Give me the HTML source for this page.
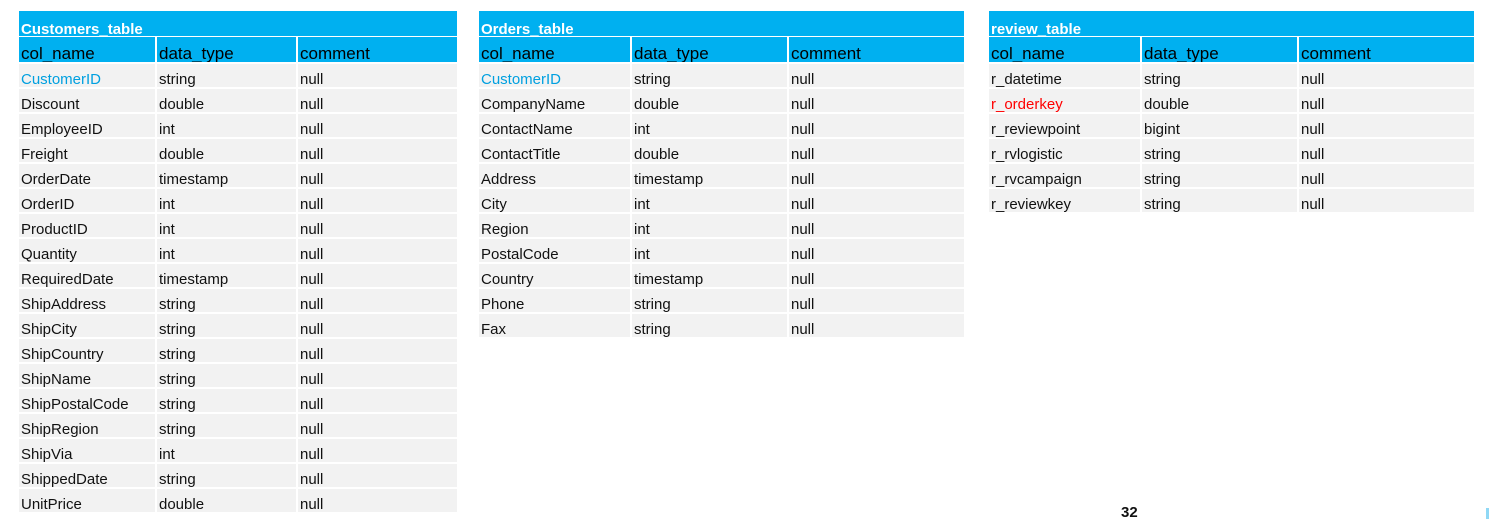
<!DOCTYPE html>
<html><head><meta charset="utf-8"><style>
body{margin:0;width:1489px;height:519px;background:#fff;position:relative;overflow:hidden;font-family:"Liberation Sans",sans-serif;}
.t{position:absolute;top:11px;}
.title{height:25px;background:#00b0f0;color:#fff;font-weight:bold;font-size:15px;line-height:38px;padding-left:2px;box-sizing:border-box;overflow:hidden;}
.r{display:flex;margin-top:2px;height:23px;}
.h{height:25px;margin-top:1px;}
.r div{box-sizing:border-box;padding-left:2px;margin-right:2px;background:#f2f2f2;font-size:15px;line-height:31px;color:#111;white-space:nowrap;overflow:hidden;}
.r div:last-child{margin-right:0}
.h div{background:#00b0f0;font-size:17px;line-height:33px;color:#000;}
.b{color:#00a0e0!important}.red{color:#f00!important}
</style></head><body>

<div class="t" style="left:19px;width:438px">
<div class="title">Customers_table</div>
<div class="r h"><div style="width:136px">col_name</div><div style="width:139px">data_type</div><div style="flex:1">comment</div></div>
<div class="r"><div class="b" style="width:136px">CustomerID</div><div style="width:139px">string</div><div style="flex:1">null</div></div>
<div class="r"><div style="width:136px">Discount</div><div style="width:139px">double</div><div style="flex:1">null</div></div>
<div class="r"><div style="width:136px">EmployeeID</div><div style="width:139px">int</div><div style="flex:1">null</div></div>
<div class="r"><div style="width:136px">Freight</div><div style="width:139px">double</div><div style="flex:1">null</div></div>
<div class="r"><div style="width:136px">OrderDate</div><div style="width:139px">timestamp</div><div style="flex:1">null</div></div>
<div class="r"><div style="width:136px">OrderID</div><div style="width:139px">int</div><div style="flex:1">null</div></div>
<div class="r"><div style="width:136px">ProductID</div><div style="width:139px">int</div><div style="flex:1">null</div></div>
<div class="r"><div style="width:136px">Quantity</div><div style="width:139px">int</div><div style="flex:1">null</div></div>
<div class="r"><div style="width:136px">RequiredDate</div><div style="width:139px">timestamp</div><div style="flex:1">null</div></div>
<div class="r"><div style="width:136px">ShipAddress</div><div style="width:139px">string</div><div style="flex:1">null</div></div>
<div class="r"><div style="width:136px">ShipCity</div><div style="width:139px">string</div><div style="flex:1">null</div></div>
<div class="r"><div style="width:136px">ShipCountry</div><div style="width:139px">string</div><div style="flex:1">null</div></div>
<div class="r"><div style="width:136px">ShipName</div><div style="width:139px">string</div><div style="flex:1">null</div></div>
<div class="r"><div style="width:136px">ShipPostalCode</div><div style="width:139px">string</div><div style="flex:1">null</div></div>
<div class="r"><div style="width:136px">ShipRegion</div><div style="width:139px">string</div><div style="flex:1">null</div></div>
<div class="r"><div style="width:136px">ShipVia</div><div style="width:139px">int</div><div style="flex:1">null</div></div>
<div class="r"><div style="width:136px">ShippedDate</div><div style="width:139px">string</div><div style="flex:1">null</div></div>
<div class="r"><div style="width:136px">UnitPrice</div><div style="width:139px">double</div><div style="flex:1">null</div></div>
</div>

<div class="t" style="left:479px;width:485px">
<div class="title">Orders_table</div>
<div class="r h"><div style="width:151px">col_name</div><div style="width:155px">data_type</div><div style="flex:1">comment</div></div>
<div class="r"><div class="b" style="width:151px">CustomerID</div><div style="width:155px">string</div><div style="flex:1">null</div></div>
<div class="r"><div style="width:151px">CompanyName</div><div style="width:155px">double</div><div style="flex:1">null</div></div>
<div class="r"><div style="width:151px">ContactName</div><div style="width:155px">int</div><div style="flex:1">null</div></div>
<div class="r"><div style="width:151px">ContactTitle</div><div style="width:155px">double</div><div style="flex:1">null</div></div>
<div class="r"><div style="width:151px">Address</div><div style="width:155px">timestamp</div><div style="flex:1">null</div></div>
<div class="r"><div style="width:151px">City</div><div style="width:155px">int</div><div style="flex:1">null</div></div>
<div class="r"><div style="width:151px">Region</div><div style="width:155px">int</div><div style="flex:1">null</div></div>
<div class="r"><div style="width:151px">PostalCode</div><div style="width:155px">int</div><div style="flex:1">null</div></div>
<div class="r"><div style="width:151px">Country</div><div style="width:155px">timestamp</div><div style="flex:1">null</div></div>
<div class="r"><div style="width:151px">Phone</div><div style="width:155px">string</div><div style="flex:1">null</div></div>
<div class="r"><div style="width:151px">Fax</div><div style="width:155px">string</div><div style="flex:1">null</div></div>
</div>

<div class="t" style="left:989px;width:485px">
<div class="title">review_table</div>
<div class="r h"><div style="width:151px">col_name</div><div style="width:155px">data_type</div><div style="flex:1">comment</div></div>
<div class="r"><div style="width:151px">r_datetime</div><div style="width:155px">string</div><div style="flex:1">null</div></div>
<div class="r"><div class="red" style="width:151px">r_orderkey</div><div style="width:155px">double</div><div style="flex:1">null</div></div>
<div class="r"><div style="width:151px">r_reviewpoint</div><div style="width:155px">bigint</div><div style="flex:1">null</div></div>
<div class="r"><div style="width:151px">r_rvlogistic</div><div style="width:155px">string</div><div style="flex:1">null</div></div>
<div class="r"><div style="width:151px">r_rvcampaign</div><div style="width:155px">string</div><div style="flex:1">null</div></div>
<div class="r"><div style="width:151px">r_reviewkey</div><div style="width:155px">string</div><div style="flex:1">null</div></div>
</div>

<div style="position:absolute;left:1121px;top:504px;font-size:15px;font-weight:bold;color:#111;">32</div>
<div style="position:absolute;left:1486px;top:508px;width:3px;height:11px;background:#8fd8f5;"></div>
</body></html>
